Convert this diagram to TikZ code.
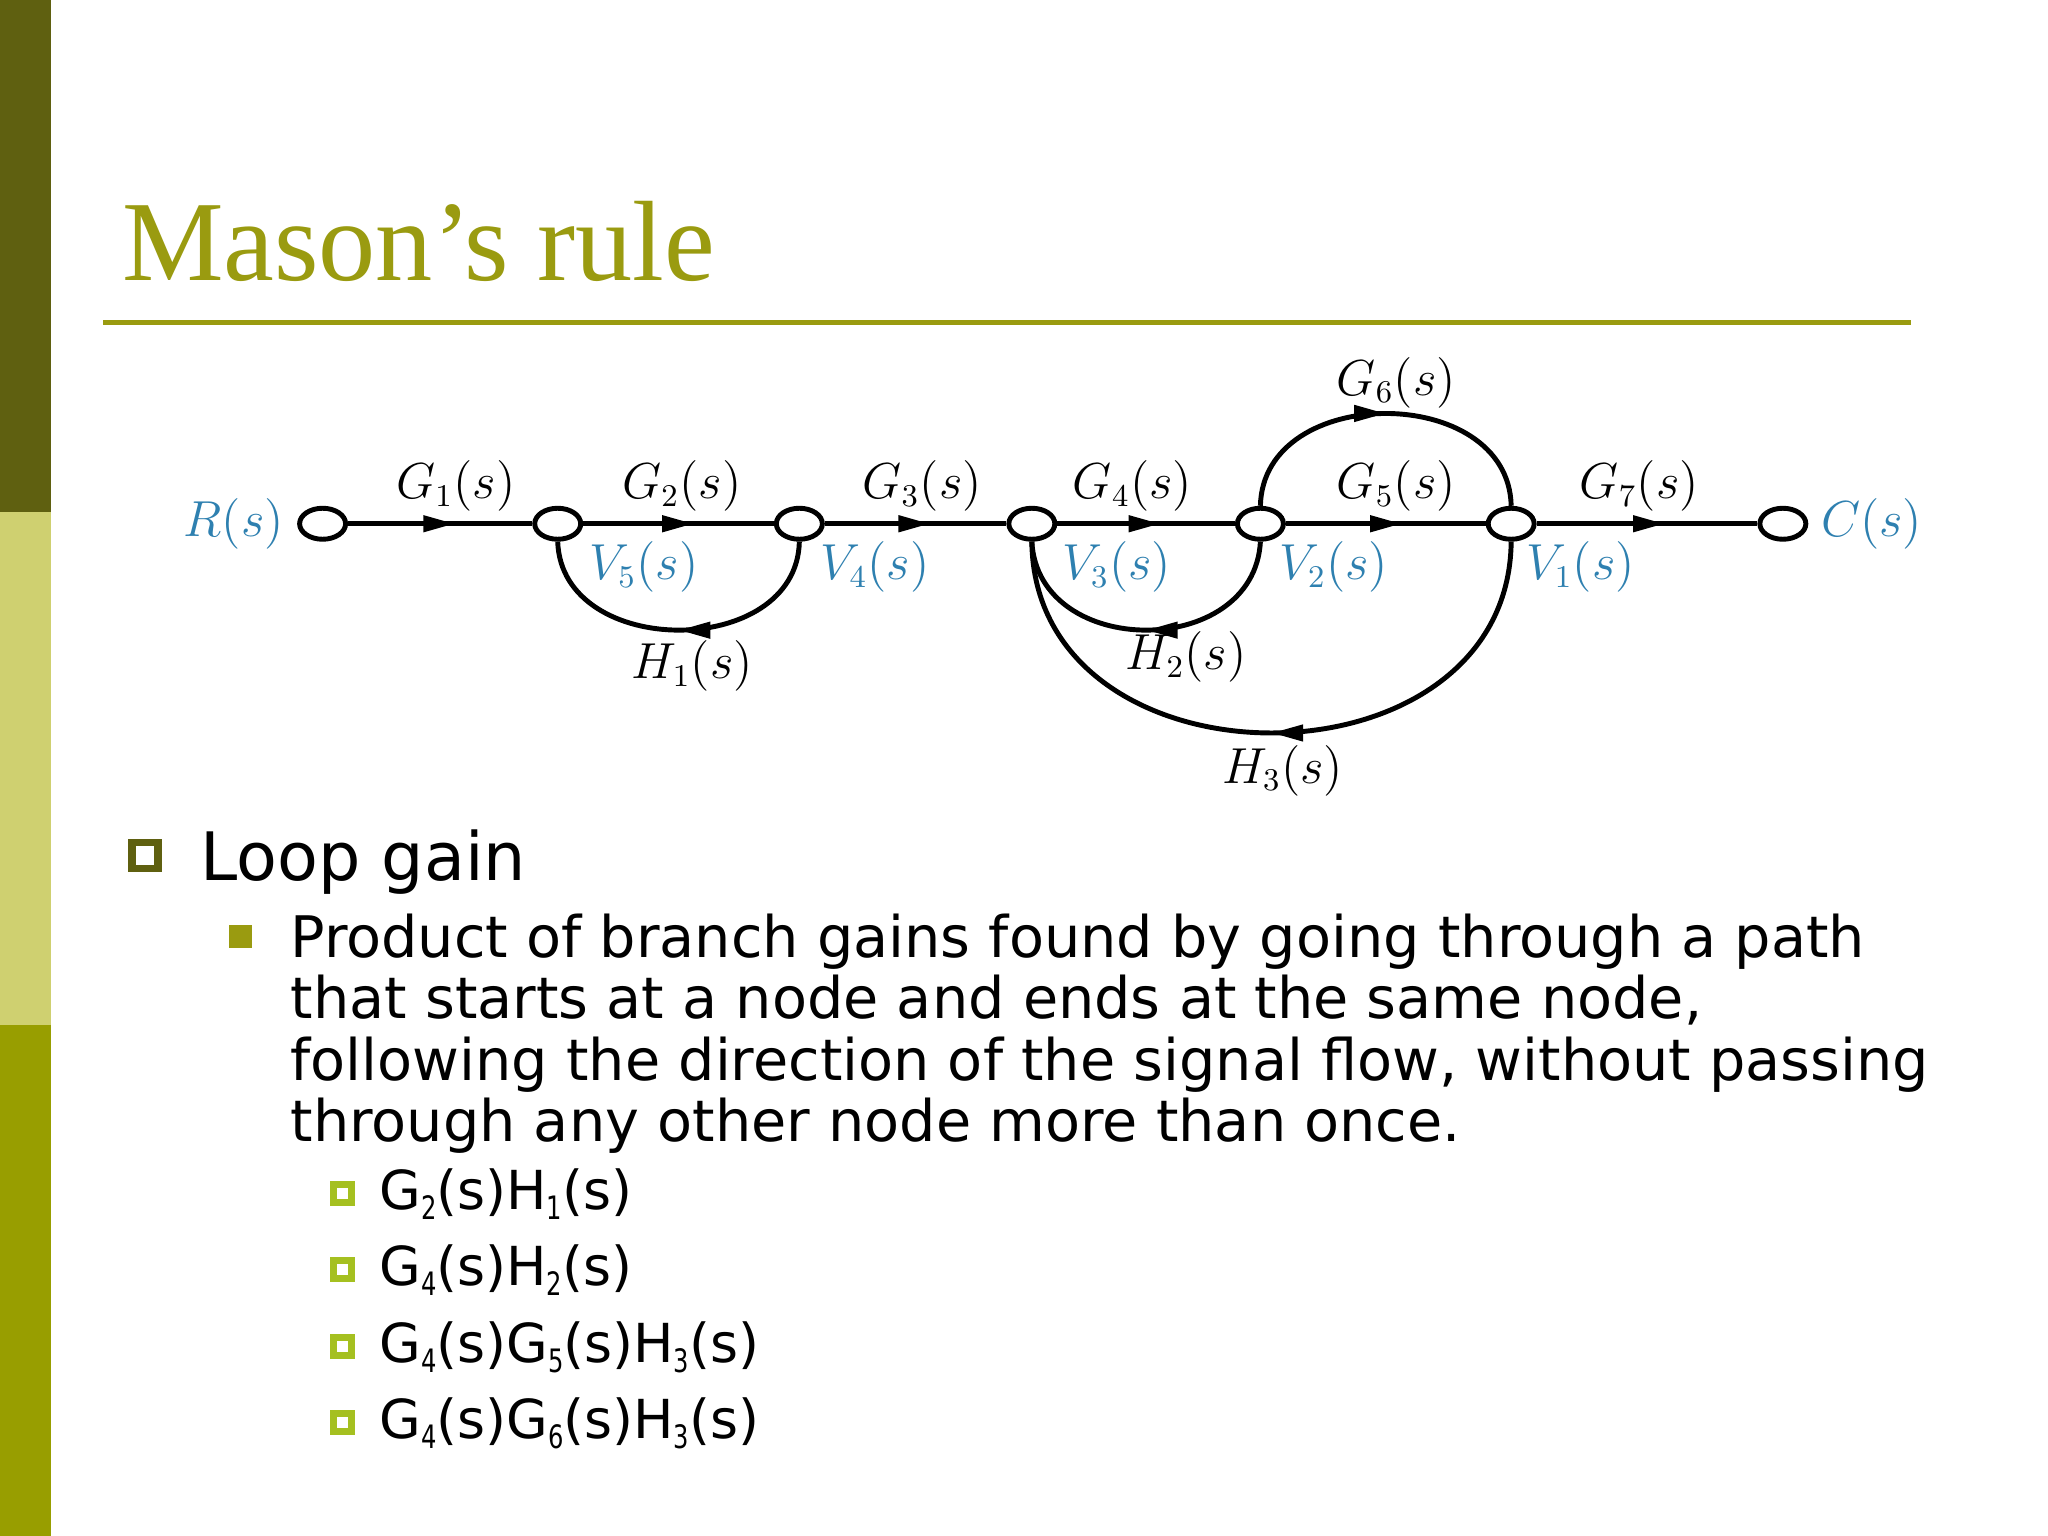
\documentclass[tikz,border=0pt]{standalone}
\usepackage{fontspec}
\usepackage{graphicx}
\setmainfont{Liberation Serif}
\newfontfamily\bodyfont{DejaVu Sans}
\usetikzlibrary{arrows.meta,decorations.markings,shapes.geometric}
\definecolor{olive}{HTML}{9A9B10}
\definecolor{darkol}{HTML}{5F6010}
\definecolor{lightol}{HTML}{CFD070}
\definecolor{barol}{HTML}{989E00}
\definecolor{lblue}{HTML}{2E80B0}
\definecolor{bul3}{HTML}{A5C020}
\newcommand{\sbx}[1]{\raisebox{-0.35ex}{\scalebox{0.45}[0.6]{#1}}}
\tikzset{
  sig/.style={draw=black,line width=1.4pt,ellipse,minimum width=0.46cm,minimum height=0.31cm,inner sep=0pt,fill=white},
  br/.style={line width=1.4pt,postaction={decorate},decoration={markings,mark=at position #1 with {\arrow{Triangle[length=9pt,width=4.5pt]}}}},
  br/.default=0.58,
  glab/.style={font=\fontsize{13.5}{15}\selectfont},
  blab/.style={font=\fontsize{13.5}{15}\selectfont,text=lblue},
  body/.style={font=\bodyfont\fontsize{16.3}{20}\selectfont,anchor=base west,inner sep=0pt}
}
\begin{document}
\begin{tikzpicture}[x=0.013061cm,y=-0.013061cm]
\useasboundingbox (0,0) rectangle (1568,1176);
\fill[white] (0,0) rectangle (1568,1176);
\fill[darkol] (0,0) rectangle (39,392);
\fill[lightol] (0,392) rectangle (39,785);
\fill[barol] (0,785) rectangle (39,1176);
\node[anchor=base west,inner sep=0pt,text=olive,font=\fontsize{32.5}{40}\selectfont] (title) at (93,215) {Mason’s rule};
\coordinate (r1) at (79,247); \coordinate (r2) at (1463,247);
\draw[olive,line width=1.5pt] (r1) -- (r2);
% nodes
\node[sig] (R) at (247,401) {};
\node[sig] (v5) at (427,401) {};
\node[sig] (v4) at (612,401) {};
\node[sig] (v3) at (790,401) {};
\node[sig] (v2) at (965,401) {};
\node[sig] (v1) at (1157,401) {};
\node[sig] (C) at (1365,401) {};
\draw[br] (R) -- (v5);
\draw[br] (v5) -- (v4);
\draw[br] (v4) -- (v3);
\draw[br] (v3) -- (v2);
\draw[br] (v2) -- (v1);
\draw[br] (v1) -- (C);
\draw[br=0.5] (v4.south) .. controls (610,505) and (430,505) .. (v5.south);
\draw[br=0.5] (v2.south) .. controls (960,505) and (795,505) .. (v3.south);
\draw[br=0.5] (v1.south) .. controls (1155,610) and (792,610) .. (v3.south);
\draw[br=0.5] (v2.north) .. controls (967,293) and (1155,293) .. (v1.north);
% labels
\node[glab] (g1) at (349,372) {$G_1(s)$};
\node[glab] (g2) at (522,372) {$G_2(s)$};
\node[glab] (g3) at (706,372) {$G_3(s)$};
\node[glab] (g4) at (867,372) {$G_4(s)$};
\node[glab] (g5) at (1069,372) {$G_5(s)$};
\node[glab] (g7) at (1255,372) {$G_7(s)$};
\node[glab] (g6) at (1069,293) {$G_6(s)$};
\node[glab] (h1) at (530,510) {$H_1(s)$};
\node[glab] (h2) at (908,503) {$H_2(s)$};
\node[glab] (h3) at (982,590) {$H_3(s)$};
\node[blab] (lv5) at (493,434) {$V_5(s)$};
\node[blab] (lv4) at (670,434) {$V_4(s)$};
\node[blab] (lv3) at (855,434) {$V_3(s)$};
\node[blab] (lv2) at (1021,434) {$V_2(s)$};
\node[blab] (lv1) at (1210,434) {$V_1(s)$};
\node[blab] (lR) at (179,401) {$R(s)$};
\node[blab] (lC) at (1433,401) {$C(s)$};
% bullets
\draw[darkol,line width=2.2pt] (101,645) rectangle (121,665);
\node[body,font=\bodyfont\fontsize{19}{22}\selectfont] (lg) at (153,674) {Loop gain};
\fill[olive] (175,708) rectangle (193,726);
\node[body] (t1) at (222,733) {Product of branch gains found by going through a path};
\node[body] (t2) at (222,780) {that starts at a node and ends at the same node,};
\node[body] (t3) at (222,827) {following the direction of the signal flow, without passing};
\node[body] (t4) at (222,874) {through any other node more than once.};
\foreach \yy/\tx [count=\i] in {914/{G\sbx{2}(s)H\sbx{1}(s)},972/{G\sbx{4}(s)H\sbx{2}(s)},1031/{G\sbx{4}(s)G\sbx{5}(s)H\sbx{3}(s)},1089/{G\sbx{4}(s)G\sbx{6}(s)H\sbx{3}(s)}}{
  \draw[bul3,line width=2pt] (255,\yy-7) rectangle (269,\yy+7);
  \node[body,font=\bodyfont\fontsize{15.3}{20}\selectfont] (l\i) at (290,\yy+12) {\tx};
}
\end{tikzpicture}
\end{document}
